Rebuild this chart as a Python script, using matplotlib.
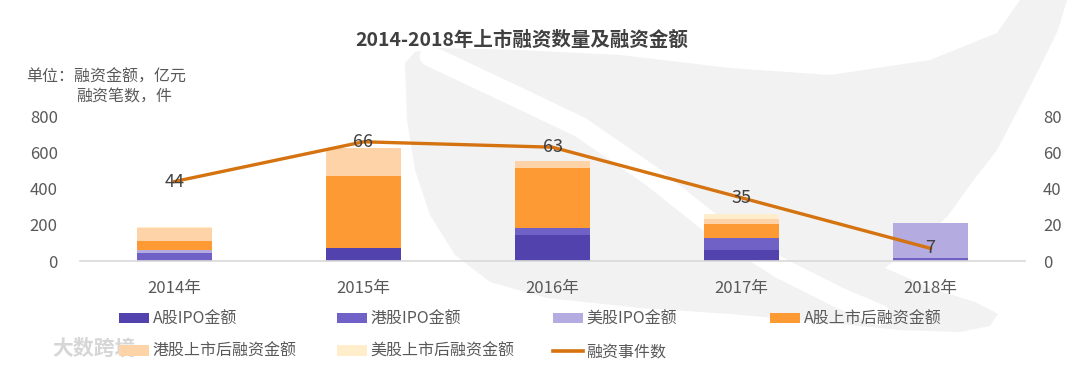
import matplotlib.pyplot as plt
import numpy as np
from matplotlib.lines import Line2D
from matplotlib.patches import Patch, Polygon

plt.rcParams["font.family"] = ["Noto Sans CJK SC", "DejaVu Sans"]

years = ["2014年", "2015年", "2016年", "2017年", "2018年"]
a_ipo = [0, 74, 146, 59, 0]
hk_ipo = [44, 0, 39, 70, 18]
us_ipo = [15, 0, 0, 0, 192]
a_post = [50, 396, 330, 74, 0]
hk_post = [74, 157, 39, 28, 3]
us_post = [3, 0, 0, 31, 0]
deals = [44, 66, 63, 35, 7]

series = [
    ("A股IPO金额", a_ipo, "#5142AE"),
    ("港股IPO金额", hk_ipo, "#7061C6"),
    ("美股IPO金额", us_ipo, "#B4ABE0"),
    ("A股上市后融资金额", a_post, "#FD9A33"),
    ("港股上市后融资金额", hk_post, "#FFD3A8"),
    ("美股上市后融资金额", us_post, "#FFEDCC"),
]
line_color = "#D4730F"
text_color = "#595959"

W, H = 1080, 368
fig = plt.figure(figsize=(W / 100, H / 100), dpi=100)

# light grey watermark shape behind everything (pixel coords, y down)
bg = fig.add_axes([0, 0, 1, 1], zorder=-10)
bg.set_xlim(0, W)
bg.set_ylim(H, 0)
bg.axis("off")
blob = [(405, 63), (415, 52), (440, 48), (520, 50), (620, 55), (730, 68),
        (830, 75), (930, 60), (997, 33), (1020, 0), (1067, 0), (1058, 30),
        (1040, 67), (1018, 110), (997, 150), (970, 185), (947, 217), (915, 245),
        (885, 268), (930, 288), (975, 302), (998, 314), (990, 326), (960, 332),
        (900, 330), (820, 322), (730, 314), (640, 308), (547, 298), (490, 282),
        (455, 255), (430, 215), (415, 170), (407, 120)]
bg.add_patch(Polygon(blob, closed=True, fc="#F2F2F2", ec="none"))
band_x = [430, 513, 580, 650, 713, 780, 840, 880]
band_y = [56, 95, 127, 175, 225, 268, 298, 315]
bg.plot(band_x, band_y, color="white", lw=15, solid_capstyle="round")
bg.text(52, 348, "大数跨境", fontsize=15, fontweight="bold", color="#D6D6D6",
        va="center", ha="left")

ax = fig.add_axes([80 / W, 1 - 261 / H, 945 / W, 144.5 / H])
ax.set_facecolor("none")
x = np.arange(len(years))
bottom = np.zeros(len(years))
handles = []
for name, vals, color in series:
    ax.bar(x, vals, width=0.4, bottom=bottom, color=color, zorder=2)
    bottom += np.array(vals)
    handles.append(Patch(fc=color, ec="none", label=name))

ax.set_xlim(-0.5, len(years) - 0.5)
ax.set_ylim(0, 800)
ax.set_yticks(range(0, 801, 200))
ax.set_xticks(x)
ax.set_xticklabels(years)
for s in ["top", "left", "right"]:
    ax.spines[s].set_visible(False)
ax.spines["bottom"].set_color("#D9D9D9")
ax.spines["bottom"].set_linewidth(1.2)
ax.tick_params(axis="y", length=0, pad=16, labelsize=12, labelcolor=text_color)
ax.tick_params(axis="x", length=0, pad=14, labelsize=12, labelcolor=text_color)

ax2 = ax.twinx()
ax2.set_ylim(0, 80)
ax2.set_yticks(range(0, 81, 20))
for s in ax2.spines.values():
    s.set_visible(False)
ax2.tick_params(axis="y", length=0, pad=13, labelsize=12, labelcolor=text_color)
ax2.plot(x, deals, color=line_color, lw=2.4, zorder=3)
for xi, v in zip(x, deals):
    ax2.text(xi, v, str(v), ha="center", va="center", fontsize=13, color="#404040", zorder=4)
handles.append(Line2D([], [], color=line_color, lw=2.6, label="融资事件数"))

fig.text(522 / W, 1 - 40 / H, "2014-2018年上市融资数量及融资金额", ha="center",
         va="center", fontsize=14, fontweight="bold", color="#404040")
fig.text(26 / W, 1 - 77 / H, "单位：融资金额，亿元", ha="left", va="center",
         fontsize=11.5, color=text_color)
fig.text(76 / W, 1 - 97 / H, "融资笔数，件", ha="left", va="center",
         fontsize=11.5, color=text_color)

# legend laid out column by column, like the original
col_x = [119, 337, 553, 770]
for j, cx in enumerate(col_x):
    hs = [handles[j]] + ([handles[j + 4]] if j + 4 < len(handles) else [])
    fig.legend(handles=hs, loc="upper left", bbox_to_anchor=(cx / W, 1 - 311 / H),
               frameon=False, borderpad=0, borderaxespad=0, fontsize=11.5,
               handlelength=1.9, handleheight=0.6, handletextpad=0.2,
               labelspacing=0.95, labelcolor=text_color)

fig.savefig("out.png", dpi=100)
